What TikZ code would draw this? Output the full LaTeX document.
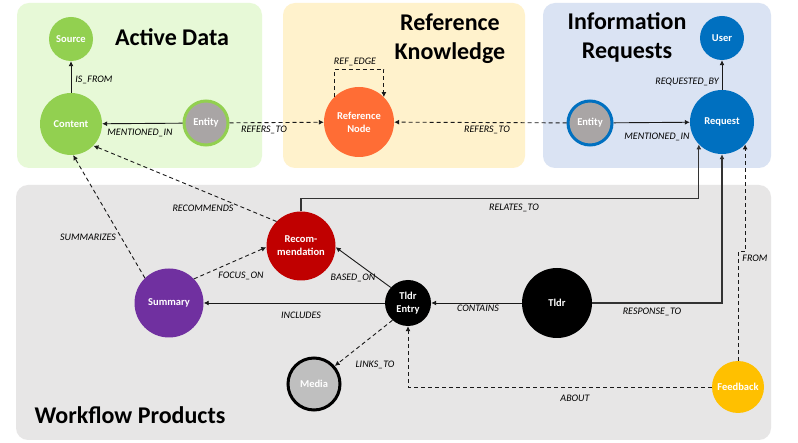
\documentclass[tikz,border=0pt]{standalone}
\usepackage{fontspec}
\setmainfont{Carlito}
\usetikzlibrary{arrows.meta}
\definecolor{greenbg}{HTML}{E7F9D7}
\definecolor{yellowbg}{HTML}{FFF2CC}
\definecolor{bluebg}{HTML}{DAE3F3}
\definecolor{graybg}{HTML}{E7E6E6}
\definecolor{gnode}{HTML}{92D050}
\definecolor{bnode}{HTML}{0070C0}
\definecolor{onode}{HTML}{FF6D35}
\definecolor{rnode}{HTML}{C00000}
\definecolor{pnode}{HTML}{7030A0}
\definecolor{ynode}{HTML}{FFC000}
\definecolor{entgray}{HTML}{A9A5A5}
\definecolor{medgray}{HTML}{BFBFBF}
\begin{document}
\begin{tikzpicture}[x=1pt,y=-1pt,
  panel/.style={rounded corners=12pt},
  nd/.style={circle, inner sep=0pt, text=white, font=\fontsize{10.5}{13}\selectfont\bfseries, align=center},
  lbl/.style={font=\fontsize{10}{11}\selectfont\itshape, inner sep=1pt, text=black},
  ttl/.style={font=\fontsize{24}{29}\selectfont\bfseries, align=center, inner sep=0pt},
  sarrow/.style={-{Latex[length=5pt,width=5pt]}, line width=0.9pt, draw=black!90},
  darrow/.style={sarrow, dash pattern=on 4pt off 3pt},
  elbow/.style={sarrow, line width=1.3pt, draw=black!80},
]
\useasboundingbox (0,0) rectangle (798,443);
\fill[white] (0,0) rectangle (798,443);
% panels
\fill[panel, greenbg] (17,3) rectangle (262,168);
\fill[panel, yellowbg] (283,3) rectangle (525,168);
\fill[panel, bluebg] (543,3) rectangle (771,168);
\fill[panel, graybg] (16,185) rectangle (771,440);
% titles
\node[ttl] (tAD) at (172,37) {Active Data};
\node[ttl] (tRK) at (450,39) {Reference\\Knowledge};
\node[ttl] (tIR) at (627,37.5) {Information\\Requests};
\node[ttl] (tWP) at (130,415) {Workflow Products};
% nodes
\node[nd, fill=gnode, minimum size=44pt] (Source) at (71,39) {Source};
\node[nd, fill=gnode, minimum size=62pt] (Content) at (71,124) {Content};
\node[nd, fill=entgray, draw=gnode, line width=3pt, minimum size=44pt] (EntG) at (206,123) {Entity};
\node[nd, fill=onode, minimum size=70pt] (Ref) at (359,122) {Reference\\Node};
\node[nd, fill=bnode, minimum size=44pt] (User) at (722,38) {User};
\node[nd, fill=bnode, minimum size=64pt] (Request) at (722,122) {Request};
\node[nd, fill=entgray, draw=bnode, line width=3pt, minimum size=44pt] (EntB) at (590,123) {Entity};
\node[nd, fill=rnode, minimum size=69pt] (Rec) at (301,246) {Recom-\\mendation};
\node[nd, fill=black, minimum size=46pt] (TE) at (408,303) {Tldr\\Entry};
\node[nd, fill=medgray, draw=black, line width=3pt, minimum size=52pt] (Media) at (314,384) {Media};
\node[nd, fill=pnode, minimum size=69pt] (Summary) at (169,303) {Summary};
\node[nd, fill=black, minimum size=70pt] (Tldr) at (557,303) {Tldr};
\node[nd, fill=ynode, minimum size=52pt] (Feedback) at (738,387) {Feedback};
% edges top
\draw[sarrow] (Content) -- (Source) node[lbl] (lIS) at (94,80) {IS\_FROM};
\draw[sarrow] (EntG) -- (Content) node[lbl] (lMI1) at (140,133) {MENTIONED\_IN};
\draw[darrow] (EntG) -- (Ref) node[lbl] (lRT1) at (264,130) {REFERS\_TO};
\draw[darrow] (EntB) -- (Ref) node[lbl] (lRT2) at (487,130) {REFERS\_TO};
\draw[sarrow] (EntB) -- (Request) node[lbl] (lMI2) at (657,137) {MENTIONED\_IN};
\draw[sarrow] (Request) -- (User) node[lbl] (lRB) at (687,82) {REQUESTED\_BY};
\draw[darrow] (Ref.135) -- ++(0,-27.5) -| (Ref.45) node[lbl] (lRE) at (355,62) {REF\_EDGE};
% edges bottom
\draw[darrow] (Summary.134) -- (Content.-86) node[lbl] (lSU) at (88,237) {SUMMARIZES};
\draw[darrow] (Rec.135) -- (Content.-44) node[lbl] (lRC) at (203,208) {RECOMMENDS};
\draw[darrow] (Summary.44) -- (Rec.182) node[lbl] (lFO) at (241,276) {FOCUS\_ON};
\draw[sarrow] (TE.138) -- (Rec.-2) node[lbl] (lBO) at (353,278) {BASED\_ON};
\draw[sarrow] (TE) -- (Summary) node[lbl] (lIN) at (301,315) {INCLUDES};
\draw[sarrow] (Tldr) -- (TE) node[lbl] (lCO) at (478,308) {CONTAINS};
\draw[darrow] (TE.228) -- (Media.41) node[lbl] (lLT) at (375,365) {LINKS\_TO};
\draw[elbow] (Rec.north) -- ++(0,-13) -| (Request.-136) node[lbl] (lRL) at (514,208) {RELATES\_TO};
\draw[elbow] (Tldr.east) -| (Request.south) node[lbl] (lRS) at (652,312) {RESPONSE\_TO};
\draw[darrow] (Feedback.north) -- ++(0,-109) -| (Request.-44) node[lbl, anchor=west] (lFR) at (741,258) {FROM};
\draw[darrow] (Feedback.west) -| (TE.south) node[lbl] (lAB) at (575,398) {ABOUT};
\end{tikzpicture}
\end{document}
